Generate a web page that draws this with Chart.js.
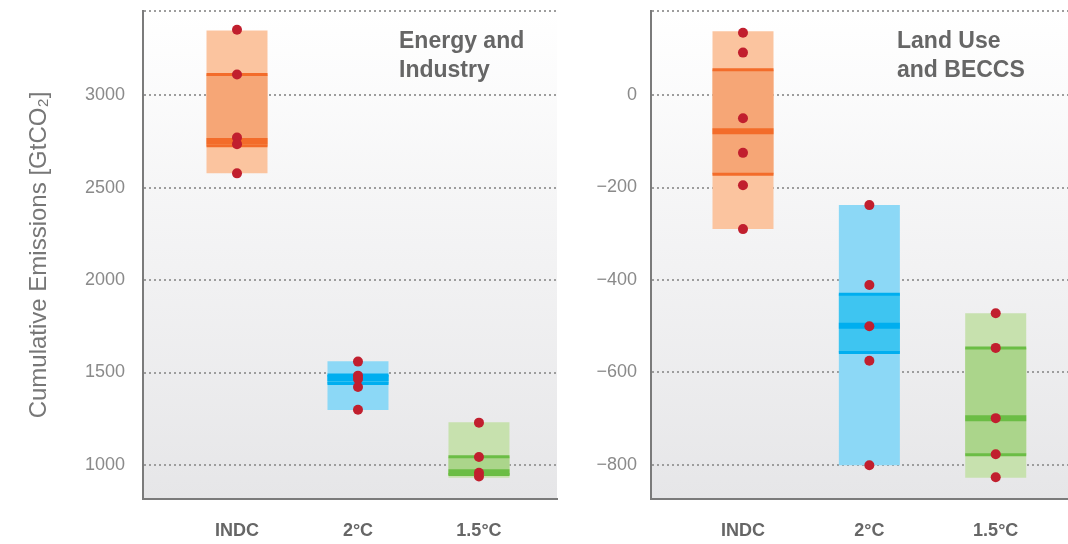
<!DOCTYPE html>
<html lang="en">
<head>
<meta charset="UTF-8">
<title>Cumulative Emissions</title>
<script src="https://cdn.jsdelivr.net/npm/chart.js@4"></script>
<style>
    body { margin: 0; background: #fff; }
    .wrap { position: relative; width: 1068px; height: 544px; }
    canvas { position: absolute; top: 0; }
    #energyChart { left: 0; }
    #landChart { left: 560px; }
</style>
</head>
<body>

<div class="wrap">
    <canvas id="energyChart" width="560" height="544"></canvas>
    <canvas id="landChart" width="508" height="544"></canvas>
</div>

<script>
    const categories = ['INDC', '2°C', '1.5°C'];

    // Energy and Industry
    const energyMin = [2578, 1297, 931];
    const energyMax = [3350, 1561, 1231];
    const energyQ1 = [2726, 1441, 949];
    const energyMedian = [2752, 1469, 960];
    const energyQ3 = [3111, 1486, 1045];
    const energyPoints = [
        [3354, 3112, 2771, 2735, 2577],
        [1559, 1483, 1465, 1422, 1299],
        [1229, 1043, 958, 938]
    ];
    const energyTicks = [1000, 1500, 2000, 2500, 3000];

    // Land Use and BECCS
    const landMin = [-290, -801, -828];
    const landMax = [138, -238, -472];
    const landQ1 = [-171, -557, -778];
    const landMedian = [-78, -499, -699];
    const landQ3 = [55, -431, -547];
    const landPoints = [
        [135, 92, -50, -125, -195, -290],
        [-238, -411, -500, -575, -801],
        [-472, -547, -699, -777, -827]
    ];
    const landTicks = [-800, -600, -400, -200, 0];

    const lightColors = ['#fbc49f', '#8cd8f6', '#c7e1ae'];
    const midColors = ['#f6a676', '#3ec5f1', '#abd58b'];
    const lineColors = ['#f36c2a', '#00aeef', '#6bbd45'];
    const dotColor = '#c11f2e';
    const fontFamily = "'Helvetica Neue', 'Liberation Sans', Arial, sans-serif";

    const plotBackground = {
        id: 'plotBackground',
        beforeDraw(chart) {
            const { ctx, chartArea: { left, top, right, bottom } } = chart;
            const g = ctx.createLinearGradient(0, top, 0, bottom);
            g.addColorStop(0, '#ffffff');
            g.addColorStop(1, '#e6e6e8');
            ctx.save();
            ctx.fillStyle = g;
            ctx.fillRect(left, top, right - left, bottom - top);
            ctx.restore();
        }
    };

    const panelLabel = {
        id: 'panelLabel',
        afterDraw(chart, args, opts) {
            const ctx = chart.ctx;
            ctx.save();
            ctx.font = 'bold 23px ' + fontFamily;
            ctx.fillStyle = '#666666';
            ctx.textBaseline = 'alphabetic';
            opts.lines.forEach((t, i) => ctx.fillText(t, opts.x, opts.y + i * 29));
            ctx.restore();
        }
    };

    const fmt = v => v < 0 ? '\u2212' + Math.abs(v) : String(v);

    function makeChart(id, p) {
        const range = p.min.map((v, i) => ({ x: i + 1, y: [v, p.max[i]] }));
        const iqr = p.q1.map((v, i) => ({ x: i + 1, y: [v, p.q3[i]] }));
        const dots = [];
        p.points.forEach((arr, i) => arr.forEach(v => dots.push({ x: i + 1, y: v })));
        const marker = (vals, width, order) => ({
            type: 'scatter',
            data: vals.map((v, i) => ({ x: i + 1, y: v })),
            showLine: false,
            pointStyle: 'line',
            pointRadius: 30.5,
            pointBorderWidth: width,
            pointBorderColor: lineColors,
            order: order
        });

        return new Chart(document.getElementById(id), {
            type: 'bar',
            data: {
                datasets: [
                    { data: range, backgroundColor: lightColors, grouped: false, maxBarThickness: 61, borderWidth: 0, order: 5 },
                    { data: iqr, backgroundColor: midColors, grouped: false, maxBarThickness: 61, borderWidth: 0, order: 4 },
                    marker(p.q1, 3, 3),
                    marker(p.q3, 3, 3),
                    marker(p.median, 6, 2),
                    { type: 'scatter', data: dots, showLine: false, pointRadius: 5, pointBorderWidth: 0, pointBackgroundColor: dotColor, order: 1 }
                ]
            },
            options: {
                responsive: false,
                animation: false,
                events: [],
                layout: { autoPadding: false, padding: { top: 11, right: p.padRight, left: 0, bottom: 0 } },
                plugins: {
                    legend: { display: false },
                    tooltip: { enabled: false },
                    panelLabel: { lines: p.label, x: p.labelX, y: 48 }
                },
                scales: {
                    x: {
                        type: 'linear',
                        min: p.xMin,
                        max: p.xMax,
                        offset: false,
                        afterBuildTicks: s => { s.ticks = categories.map((c, i) => ({ value: i + 1 })); },
                        afterFit: s => { s.height = 45; s.paddingLeft = 0; s.paddingRight = 0; },
                        grid: { display: false, drawTicks: false, offset: false },
                        border: { display: true, color: '#7b7b7b', width: 2 },
                        ticks: {
                            padding: 21,
                            color: '#666666',
                            autoSkip: false,
                            maxRotation: 0,
                            font: { family: fontFamily, size: 18, weight: 'bold' },
                            callback: v => categories[v - 1]
                        }
                    },
                    y: {
                        min: p.yMin,
                        max: p.yMax,
                        afterBuildTicks: s => { s.ticks = p.ticks.concat([p.yMax]).map(v => ({ value: v })); },
                        afterFit: s => { s.width = p.axisWidth; s.paddingTop = 0; s.paddingBottom = 0; },
                        grid: { color: '#9d9d9d', lineWidth: 2, drawTicks: false },
                        border: { display: true, color: '#7b7b7b', width: 2, dash: [2, 3] },
                        ticks: {
                            padding: p.tickPad,
                            color: '#8a8a8a',
                            font: { family: fontFamily, size: 18 },
                            callback: v => p.ticks.includes(v) ? fmt(v) : ''
                        },
                        title: {
                            display: !!p.title,
                            text: p.title || '',
                            color: '#777777',
                            padding: { top: 25 },
                            font: { family: fontFamily, size: 24 }
                        }
                    }
                }
            },
            plugins: [plotBackground, panelLabel]
        });
    }

    makeChart('energyChart', {
        min: energyMin, max: energyMax, q1: energyQ1, median: energyMedian, q3: energyQ3,
        points: energyPoints, ticks: energyTicks,
        yMin: 816, yMax: 3455, xMin: 0.223, xMax: 3.645,
        axisWidth: 143, padRight: 3, tickPad: 18,
        title: 'Cumulative Emissions [GtCO\u2082]',
        label: ['Energy and', 'Industry'], labelX: 399
    });

    makeChart('landChart', {
        min: landMin, max: landMax, q1: landQ1, median: landMedian, q3: landQ3,
        points: landPoints, ticks: landTicks,
        yMin: -874, yMax: 182, xMin: 0.272, xMax: 3.572,
        axisWidth: 91, padRight: 0, tickPad: 14,
        title: null,
        label: ['Land Use', 'and BECCS'], labelX: 337
    });
</script>

</body>
</html>
